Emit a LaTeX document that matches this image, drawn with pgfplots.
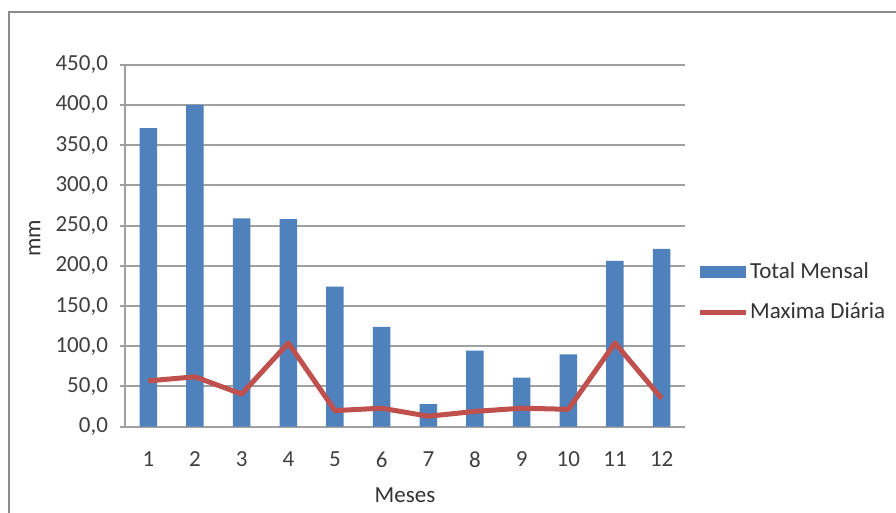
\documentclass[border=0pt]{standalone}
\usepackage{pgfplots}
\pgfplotsset{compat=1.18}
\usepackage{fontspec}
\setmainfont{Carlito}
\definecolor{barblue}{HTML}{4F81BD}
\definecolor{linered}{HTML}{C0504D}
\definecolor{gridgray}{RGB}{160,160,160}
\definecolor{framegray}{RGB}{140,140,140}
\begin{document}
\begin{tikzpicture}[x=1pt,y=1pt]
\useasboundingbox (0,0) rectangle (448,256.5);
\fill[white] (0,0) rectangle (448,256.5);
\draw[framegray, line width=1pt] (4.5,-5) -- (4.5,250.5) -- (460,250.5);
\begin{axis}[
  at={(62.5pt,43.15pt)}, anchor=south west,
  scale only axis, width=280pt, height=181pt,
  xmin=0.5, xmax=12.5, ymin=0, ymax=450,
  xtick={1,...,12}, ytick={0,50,...,450},
  font=\fontsize{11.5}{13.5}\selectfont,
  /pgf/number format/assume math mode=true,
  yticklabel={\pgfmathprintnumber[fixed,fixed zerofill,precision=1,use comma]{\tick}},
  ymajorgrids, grid style={gridgray, line width=1pt},
  axis x line*=bottom, axis y line*=left,
  axis line style={gridgray, line width=1pt, -},
  xtick style={draw=none},
  ytick style={gridgray, line width=1pt},
  tick align=outside, major tick length=2.5pt,
  yticklabel style={xshift=-2.5pt, text=black!75},
  xticklabel style={yshift=-6.5pt, text=black!75},
  xlabel={Meses}, ylabel={mm},
  xlabel style={at={(axis description cs:0.5,-0.189)}, anchor=center, text=black!80},
  ylabel style={at={(axis description cs:-0.161,0.521)}, anchor=center, rotate=0, text=black!80},
  legend style={at={(axis description cs:1.021,0.372)}, anchor=west, draw=none, fill=none,
    inner sep=0pt, row sep=7pt, font=\fontsize{11.5}{13.5}\selectfont, text=black!80,
    nodes={inner xsep=1pt}},
  legend cell align=left,
]
\addplot[ybar, bar width=8.75pt, bar shift=0pt, fill=barblue, draw=none,
  legend image code/.code={\fill[barblue] (0pt,-3pt) rectangle (23pt,3pt);}]
  coordinates {(1,371) (2,400) (3,259) (4,258) (5,174) (6,124) (7,28) (8,94.5) (9,61) (10,90) (11,206) (12,221)};
\addlegendentry{Total Mensal}
\addplot[linered, line width=2.5pt, line join=round, mark=none,
  legend image code/.code={\draw[linered, line width=2.5pt] (0pt,0pt) -- (23pt,0pt);}]
  coordinates {(1,57) (2,62) (3,40.6) (4,104) (5,20) (6,23) (7,13) (8,19) (9,23) (10,21.6) (11,104) (12,35)};
\addlegendentry{Maxima Diária}
\end{axis}
\end{tikzpicture}
\end{document}
